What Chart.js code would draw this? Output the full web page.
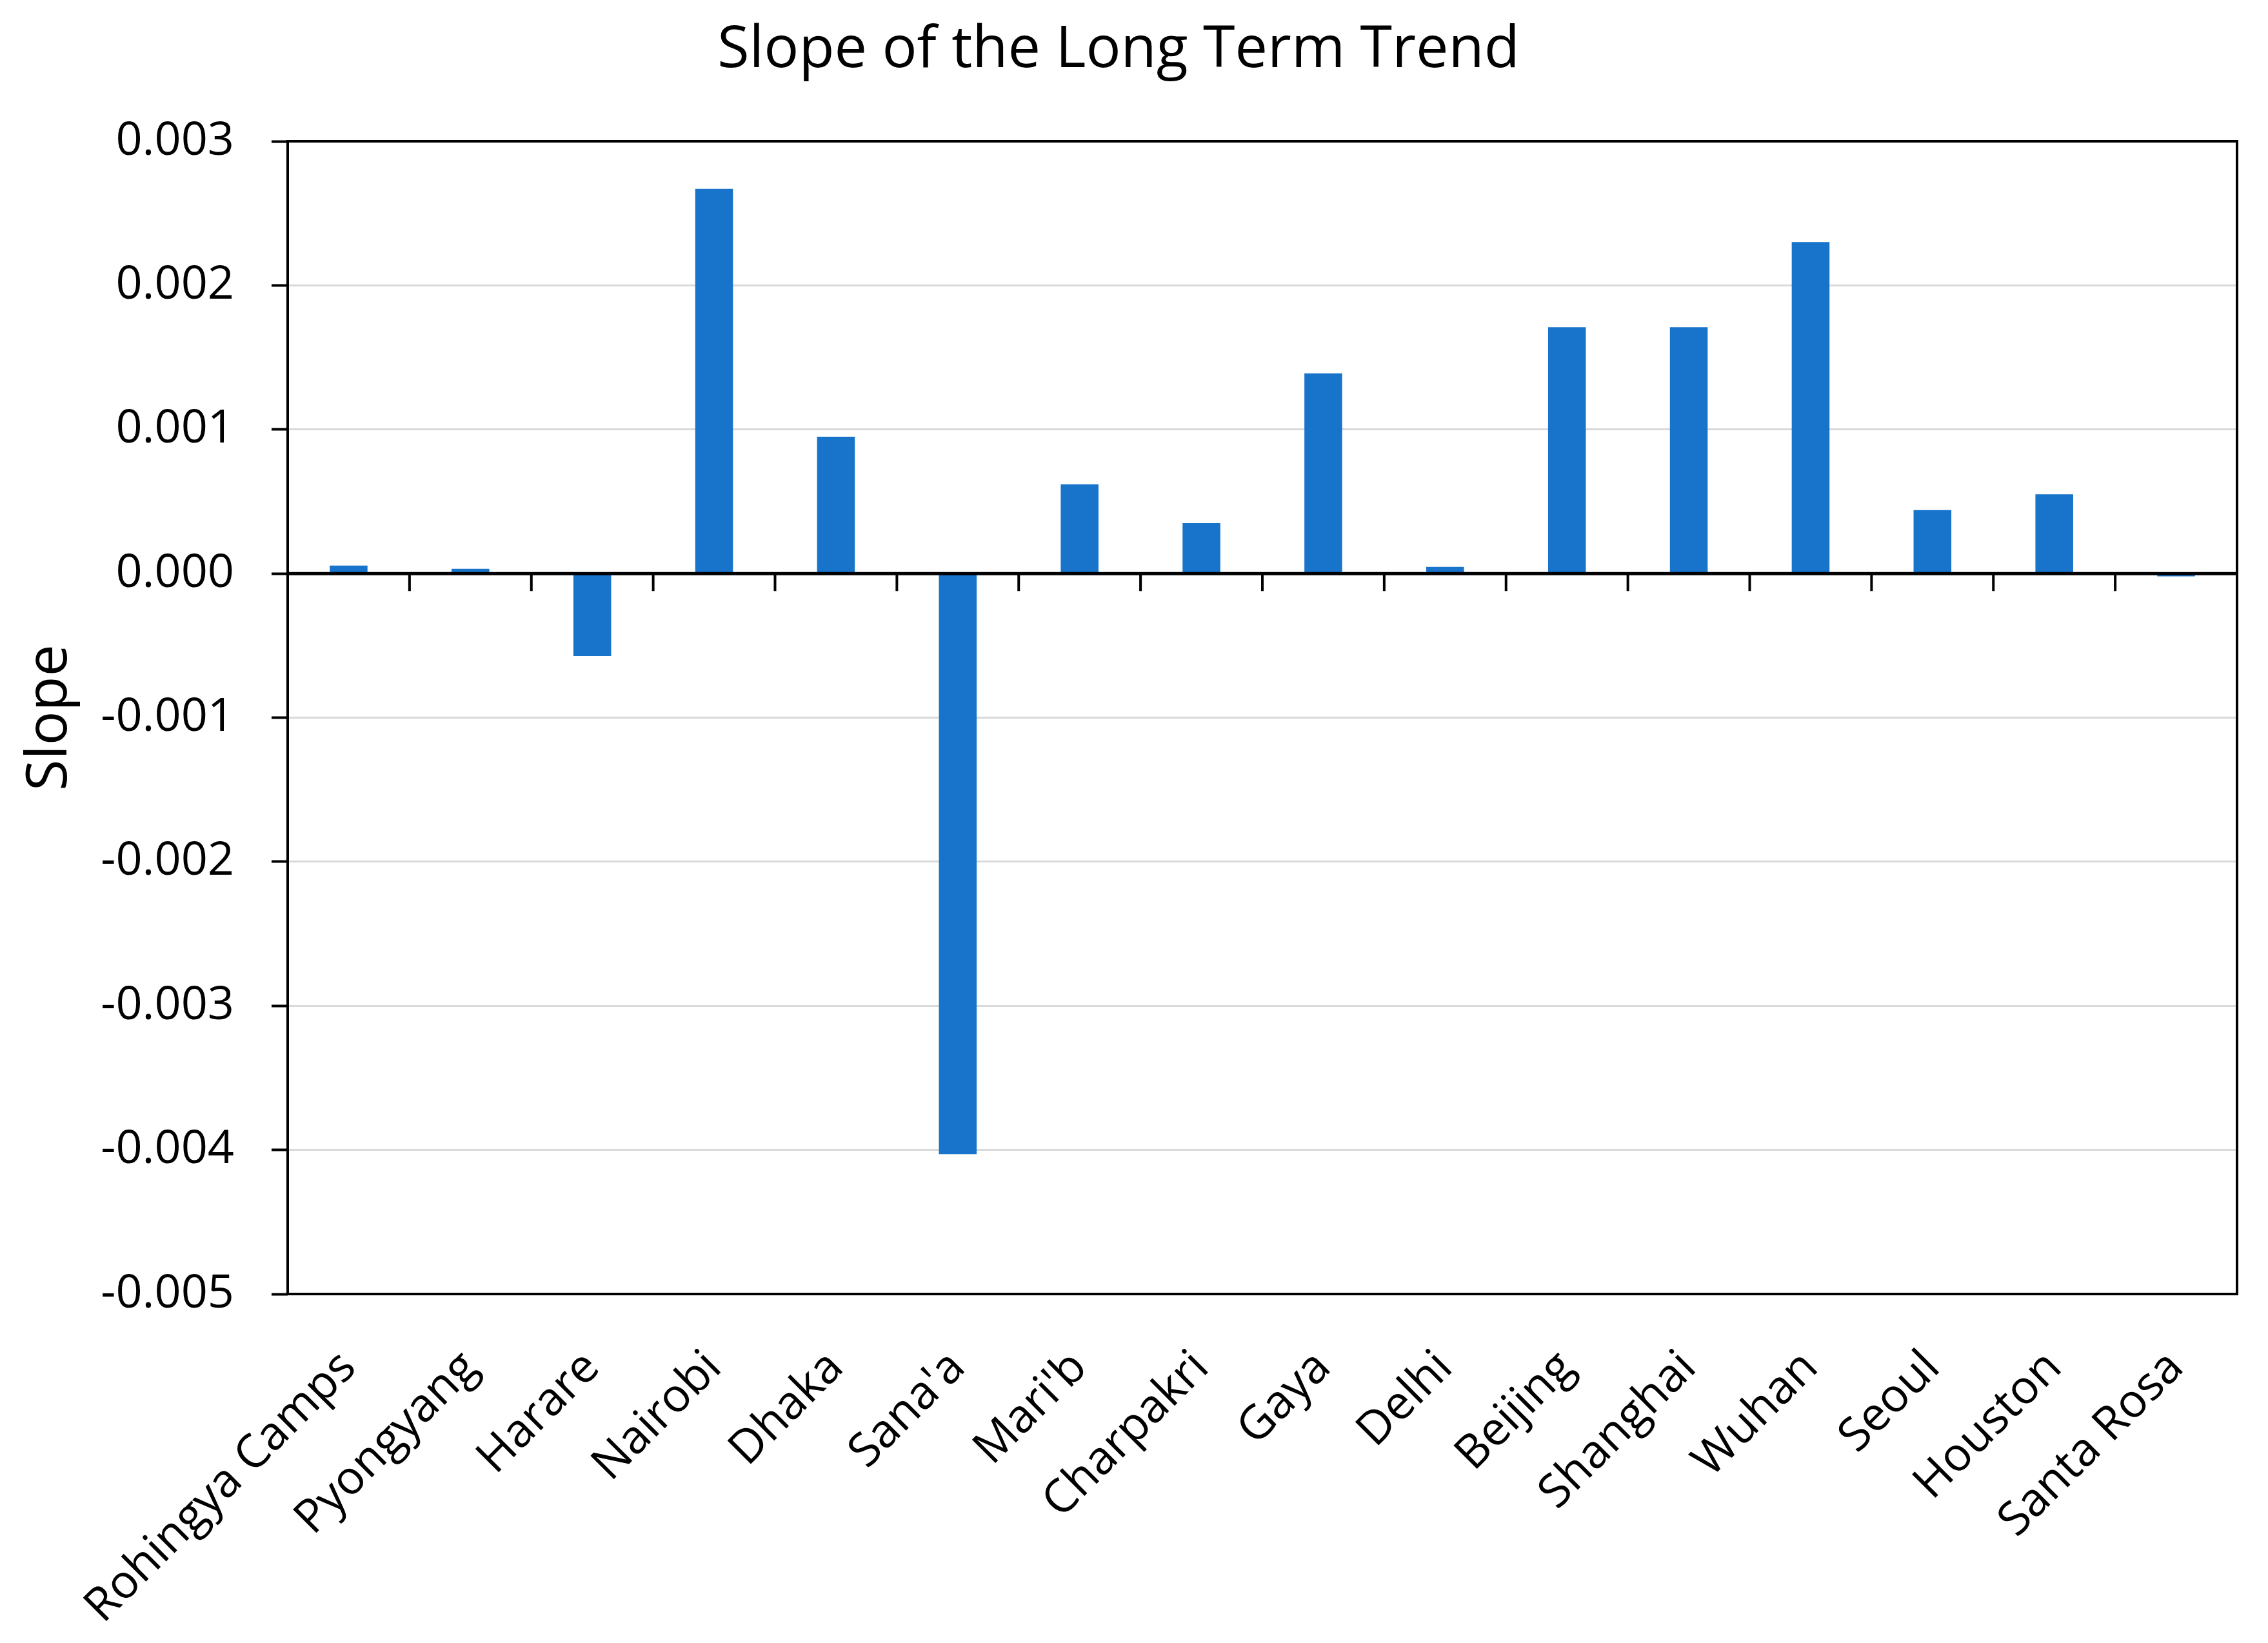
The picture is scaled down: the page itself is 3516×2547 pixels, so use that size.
<!DOCTYPE html>
<html>
<head>
<meta charset="utf-8">
<script src="https://cdn.jsdelivr.net/npm/chart.js@4.4.0/dist/chart.umd.min.js"></script>
<style>
  html, body { margin: 0; padding: 0; background: #fff; }
  canvas { display: block; }
</style>
</head>
<body>
<canvas id="slopeChart" width="3516" height="2547"></canvas>
<script>
const categories = ['Rohingya Camps', 'Pyongyang', 'Harare', 'Nairobi', 'Dhaka', "Sana'a", "Mari'b",
  'Charpakri', 'Gaya', 'Delhi', 'Beijing', 'Shanghai', 'Wuhan', 'Seoul', 'Houston', 'Santa Rosa'];
const slopes = [0.000055, 0.000033, -0.000572, 0.00267, 0.00095, -0.00403, 0.00062,
  0.00035, 0.00139, 0.000046, 0.00171, 0.00171, 0.0023, 0.00044, 0.00055, -0.00002];
const yTicks = [-0.005, -0.004, -0.003, -0.002, -0.001, 0, 0.001, 0.002, 0.003];
const yTickLabels = ['-0.005', '-0.004', '-0.003', '-0.002', '-0.001', '0.000', '0.001', '0.002', '0.003'];

const FONT = "'Open Sans', 'Noto Sans', sans-serif";

// zero line with category ticks + plot frame, drawn over the bars
const framePlugin = {
  id: 'frame',
  afterDatasetsDraw(chart) {
    const {ctx, chartArea: a, scales: {x, y}} = chart;
    const y0 = y.getPixelForValue(0);
    ctx.save();
    ctx.strokeStyle = '#000';
    ctx.lineWidth = 4;
    ctx.beginPath();
    for (let i = 0; i <= categories.length; i++) {
      const px = x.getPixelForValue(i - 0.5);
      ctx.moveTo(px, y0);
      ctx.lineTo(px, y0 + 27);
    }
    ctx.stroke();
    ctx.strokeRect(a.left, a.top, a.width, a.height);
    ctx.lineWidth = 5;
    ctx.beginPath();
    ctx.moveTo(a.left, y0);
    ctx.lineTo(a.right, y0);
    ctx.stroke();
    ctx.restore();
  }
};

new Chart(document.getElementById('slopeChart'), {
  type: 'bar',
  data: {
    labels: categories,
    datasets: [{
      data: slopes,
      backgroundColor: '#1874CB',
      borderWidth: 0,
      barPercentage: 0.31,
      categoryPercentage: 1.0
    }]
  },
  options: {
    responsive: false,
    devicePixelRatio: 1,
    animation: false,
    layout: {padding: {left: 0, right: 48, top: 0, bottom: 0}},
    plugins: {
      legend: {display: false},
      tooltip: {enabled: false},
      title: {
        display: true,
        text: 'Slope of the Long Term Trend',
        color: '#000',
        font: {family: FONT, size: 90, weight: 'normal'},
        padding: {top: 24, bottom: 87}
      }
    },
    scales: {
      x: {
        grid: {display: false, drawTicks: false},
        border: {display: false},
        ticks: {
          autoSkip: false,
          minRotation: 45,
          maxRotation: 45,
          padding: 72,
          color: '#000',
          font: {family: FONT, size: 72}
        },
        afterFit(scale) { scale.height = 541; }
      },
      y: {
        min: -0.005,
        max: 0.003,
        afterBuildTicks(scale) { scale.ticks = yTicks.map(v => ({value: v})); },
        grid: {
          color: ctx => (ctx.tick && Math.abs(ctx.tick.value) < 1e-12) ? '#000' : '#d9d9d9',
          lineWidth: 3,
          tickColor: '#000',
          tickLength: 25,
          tickWidth: 4
        },
        border: {display: false},
        ticks: {
          padding: 58,
          color: '#000',
          font: {family: FONT, size: 72},
          callback: (v, i) => yTickLabels[i]
        },
        title: {
          display: true,
          text: 'Slope',
          color: '#000',
          font: {family: FONT, size: 88},
          padding: {top: 25, bottom: 0}
        },
        afterFit(scale) { scale.width = 446; }
      }
    }
  },
  plugins: [framePlugin]
});
</script>
</body>
</html>
